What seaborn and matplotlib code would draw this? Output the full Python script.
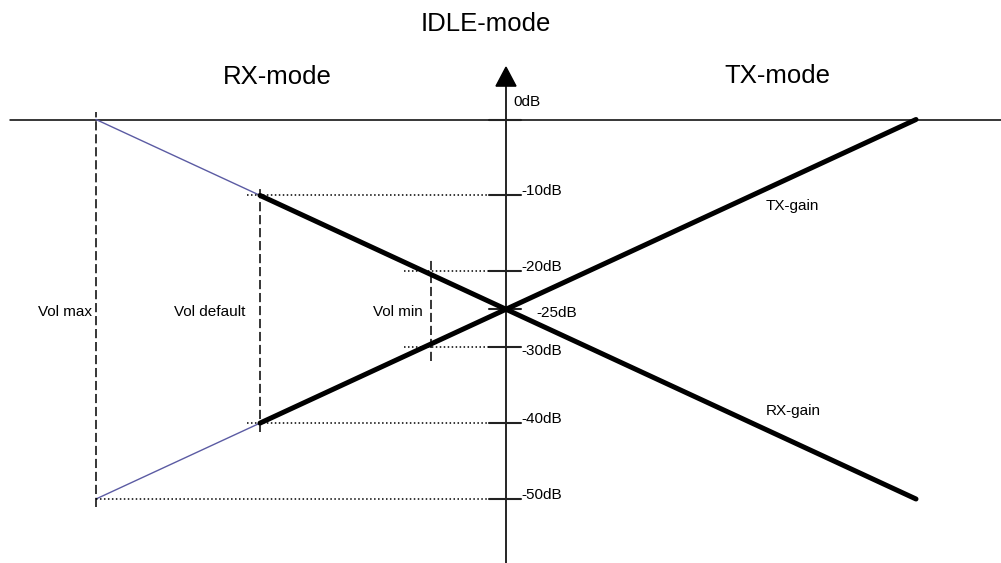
import numpy as np
import pandas as pd
import matplotlib.pyplot as plt
import seaborn as sns
from matplotlib.patches import Polygon

# volume settings: position on the x axis and the gain at that position
vol_labels = ['Vol max', 'Vol default', 'Vol min']
vol_x = [-25, -15, -4.6]
vol_rx = [0, -10, -20]
vol_tx = [-50, -40, -30]

# gain curves (thin part = beyond default volume, thick = normal range)
thin_x = [-25, -15]
rx_thin = [0, -10]
tx_thin = [-50, -40]
thick_x = [-15, 25]
rx_thick = [-10, -50]
tx_thick = [-40, 0]

db_ticks = [0, -10, -20, -25, -30, -40, -50]
db_labels = ['0dB', '-10dB', '-20dB', '-25dB', '-30dB', '-40dB', '-50dB']

# layout (pixels in a 1001x563 canvas)
PX_X = 16.4      # px per x unit
PX_DB = 7.59     # px per dB
X0, Y0 = 506, 119.5

sns.set_theme(style='white')
plt.rcParams['font.family'] = ['Liberation Sans', 'DejaVu Sans']
plt.rcParams['text.color'] = 'black'

fig = plt.figure(figsize=(10.01, 5.63), dpi=100)
ax = fig.add_axes([0, 0, 1, 1])
ax.set_xlim(-X0 / PX_X, (1001 - X0) / PX_X)
ax.set_ylim((Y0 - 563) / PX_DB, Y0 / PX_DB)
ax.axis('off')

# 0dB reference line and the vertical gain axis with arrow head
ax.plot([(10 - X0) / PX_X, 31], [0, 0], color='black', lw=1.1)
ax.plot([0, 0], [-60, 4.5], color='black', lw=1.2)
ax.add_patch(Polygon([(-0.61, 4.4), (0.61, 4.4), (0, 6.9)], closed=True,
                     color='black'))

# axis ticks and labels
lbl_dx = [7, 15, 15, 30, 15, 15, 15]
lbl_dy = [18, 4, 4, -4, -4, 4, 4]
for v, lab, dx, dy in zip(db_ticks, db_labels, lbl_dx, lbl_dy):
    ax.plot([-1.04, 0.91], [v, v], color='#222222', lw=1.5)
    ax.annotate(lab, xy=(0, v), xytext=(dx * 0.72, dy * 0.72),
                textcoords='offset points', ha='left', va='center',
                fontsize=11, color='black')

# gain curves
sns.lineplot(x=thin_x, y=rx_thin, ax=ax, color='#5b5ba3', lw=1.0)
sns.lineplot(x=thin_x, y=tx_thin, ax=ax, color='#5b5ba3', lw=1.0)
sns.lineplot(x=thick_x, y=rx_thick, ax=ax, color='black', lw=3.6)
sns.lineplot(x=thick_x, y=tx_thick, ax=ax, color='black', lw=3.6)

# volume markers: dashed verticals, dotted guides to the axis
dash_ext = [1.0, 1.2, 1.8]
dot_over = [0, 0.8, 1.6]
lbl_gap = [4, 15, 8]
for lab, x, rx, tx, ext, ov, gap in zip(vol_labels, vol_x, vol_rx, vol_tx,
                                        dash_ext, dot_over, lbl_gap):
    ax.plot([x, x], [tx - ext, rx + ext], color='black', lw=1.1,
            linestyle=(0, (6, 2.5)))
    for g in (rx, tx):
        if g == 0:
            continue
        ax.plot([x - ov, -1.04], [g, g], color='black', lw=1.1,
                linestyle=(0, (1, 1.6)))
    ax.annotate(lab, xy=(x, -25.4), xytext=(-gap * 0.72, 0),
                textcoords='offset points', ha='right', va='center',
                fontsize=11, color='black')

# curve names and mode headings
ax.text(17.45, -11.4, 'TX-gain', ha='center', va='center', fontsize=11,
        color='black')
ax.text(17.5, -38.4, 'RX-gain', ha='center', va='center', fontsize=11,
        color='black')
ax.text(-1.22, 12.58, 'IDLE-mode', ha='center', va='center', fontsize=18.5,
        color='black')
ax.text(-13.96, 5.6, 'RX-mode', ha='center', va='center', fontsize=18.5,
        color='black')
ax.text(16.52, 5.73, 'TX-mode', ha='center', va='center', fontsize=18.5,
        color='black')

fig.savefig('out.png', dpi=100)
